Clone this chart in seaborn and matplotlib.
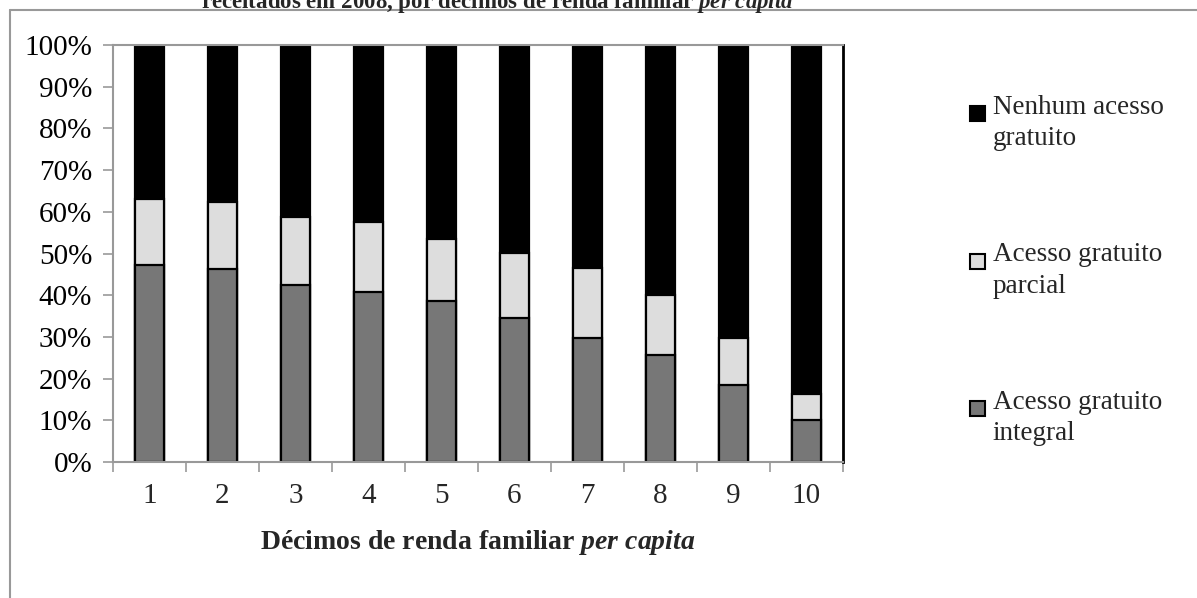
import matplotlib
matplotlib.use("Agg")
import matplotlib.pyplot as plt
import numpy as np
import pandas as pd
import seaborn as sns

from matplotlib.legend_handler import HandlerPatch
from matplotlib.lines import Line2D
from matplotlib.patches import Patch, Rectangle
from matplotlib.ticker import FixedLocator, PercentFormatter

# values (percent of people in each income decile)
decis = ["1", "2", "3", "4", "5", "6", "7", "8", "9", "10"]
integral = [47.2, 46.2, 42.5, 40.8, 38.5, 34.5, 29.7, 25.7, 18.5, 10.1]
parcial = [15.8, 16.1, 16.2, 16.8, 14.9, 15.7, 16.8, 14.4, 11.3, 6.1]
nenhum = [100 - a - b for a, b in zip(integral, parcial)]

labels = ["Nenhum acesso\ngratuito", "Acesso gratuito\nparcial", "Acesso gratuito\nintegral"]
cores = ["#000000", "#DDDDDD", "#777777"]


def quadrado_no_topo(legend, orig_handle, xdescent, ydescent, width, height, fontsize):
    # small square next to the first line of a two-line label
    s = 0.55 * fontsize
    return Rectangle((-xdescent, -ydescent + height - s - 0.3 * fontsize), s, s)


def main():
    df = pd.DataFrame({"decil": decis, "integral": integral, "parcial": parcial, "nenhum": nenhum})
    df["topo_parcial"] = df["integral"] + df["parcial"]
    df["topo"] = df["topo_parcial"] + df["nenhum"]
    for col in ["integral", "topo_parcial", "topo"]:
        df[col] = df[col] / 100

    sns.set_theme(style="white")
    plt.rcParams["font.family"] = ["Liberation Serif", "DejaVu Serif"]
    plt.rcParams["mathtext.fontset"] = "custom"
    plt.rcParams["mathtext.it"] = "Liberation Serif:italic:bold"
    plt.rcParams["mathtext.rm"] = "Liberation Serif:bold"

    fig = plt.figure(figsize=(11.97, 5.98), dpi=100)
    ax = fig.add_axes([113 / 1197, 136 / 598, 730 / 1197, 417 / 598])

    # stacked bars: draw cumulative totals back to front
    for col, cor in zip(["topo", "topo_parcial", "integral"], cores):
        sns.barplot(data=df, x="decil", y=col, color=cor, width=0.41,
                    edgecolor="black", linewidth=1.6, saturation=1, ax=ax)

    ax.set_ylim(0, 1)
    ax.set_xlim(-0.5, 9.5)
    ax.yaxis.set_major_locator(FixedLocator(np.linspace(0, 1, 11)))
    ax.yaxis.set_major_formatter(PercentFormatter(1.0, decimals=0))
    ax.tick_params(axis="y", which="major", direction="out", length=7, width=1.2,
                   color="#999999", labelsize=21, labelcolor="black", pad=8, left=True)
    ax.xaxis.set_minor_locator(FixedLocator(np.arange(-0.5, 10, 1)))
    ax.tick_params(axis="x", which="major", length=0, labelsize=21, pad=15)
    ax.tick_params(axis="x", which="minor", direction="out", length=7, width=1.2,
                   color="#999999", bottom=True)

    for side in ["left", "bottom", "top"]:
        ax.spines[side].set_color("#999999")
        ax.spines[side].set_linewidth(1.5)
    ax.spines["right"].set_color("black")
    ax.spines["right"].set_linewidth(2)

    ax.set_ylabel("")
    ax.set_xlabel(r"Décimos de renda familiar $\mathit{per\ capita}$",
                  fontsize=20, fontweight="bold", labelpad=14)

    handles = [Patch(facecolor=c, edgecolor="black", linewidth=1.5) for c in cores]
    leg = fig.legend(handles, labels, loc="upper left", bbox_to_anchor=(959 / 1197, 1 - 84 / 598),
                     frameon=False, fontsize=19.5, handlelength=0.55, handleheight=2.6,
                     handletextpad=0.3, labelspacing=3.35, borderaxespad=0,
                     handler_map={Patch: HandlerPatch(patch_func=quadrado_no_topo)})
    for t in leg.get_texts():
        t.set_linespacing(1.35)

    # title, cut off at the top of the picture
    fig.text(497 / 1197, 1 - 8 / 598,
             r"receitados em 2008, por décimos de renda familiar $\mathit{per\ capita}$",
             ha="center", va="baseline", fontsize=16.5, fontweight="bold")

    # outer chart frame
    fig.add_artist(Line2D([10 / 1197, 1.0], [1 - 10 / 598, 1 - 10 / 598],
                          transform=fig.transFigure, color="#999999", linewidth=1.5))
    fig.add_artist(Line2D([10 / 1197, 10 / 1197], [0, 1 - 10 / 598],
                          transform=fig.transFigure, color="#999999", linewidth=1.5))

    fig.savefig("out.png", dpi=100)


if __name__ == "__main__":
    main()
